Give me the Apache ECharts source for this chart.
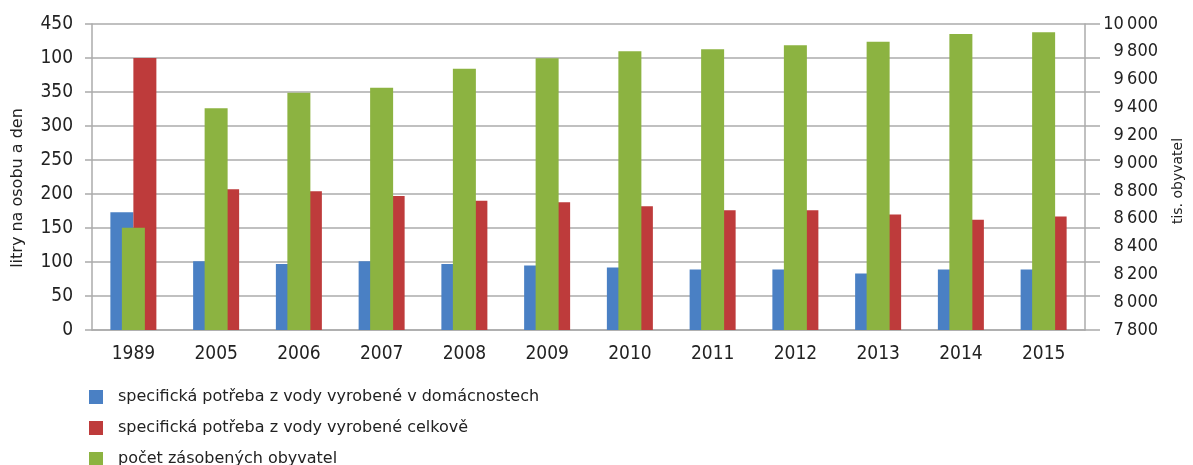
<!DOCTYPE html>
<html>
<head>
<meta charset="utf-8">
<script src="https://cdn.jsdelivr.net/npm/echarts@6/dist/echarts.min.js"></script>
<style>html,body{margin:0;padding:0;background:#fff}#c{width:1193px;height:465px}</style>
</head>
<body>
<div id="c"></div>
<script>
const categories = ['1989','2005','2006','2007','2008','2009','2010','2011','2012','2013','2014','2015'];
const domacnosti = [173, 101, 97, 101, 97, 95, 92, 89, 89, 83, 89, 89];
const celkove = [400, 207, 204, 197, 190, 188, 182, 176, 176, 170, 162, 167];
const obyvatel = [8535, 9394, 9506, 9542, 9679, 9753, 9804, 9818, 9847, 9873, 9928, 9940];
const leftTickLabels = {0:'0',50:'50',100:'100',150:'150',200:'200',250:'250',300:'300',350:'350',400:'100',450:'450'};
const seriesNames = ['specifická potřeba z vody vyrobené v domácnostech','specifická potřeba z vody vyrobené celkově','počet zásobených obyvatel'];

const numFont = '"DejaVu Sans Condensed","Liberation Sans Narrow",sans-serif';
const txtFont = '"DejaVu Sans",sans-serif';
const gridCol = '#ababab';

const chart = echarts.init(document.getElementById('c'), null, {renderer:'canvas'});
chart.setOption({
  animation:false,
  grid:{left:92, right:102, top:24, bottom:135, containLabel:false},
  legend:{
    orient:'vertical', left:89, top:389, height:120, padding:0,
    itemWidth:14, itemHeight:14, itemGap:15,
    icon:'rect',
    textStyle:{fontFamily:txtFont, fontSize:16, color:'#222', padding:[0,0,0,10]},
    data:[seriesNames[0], seriesNames[1], seriesNames[2]]
  },
  xAxis:{
    type:'category', data:categories, boundaryGap:true,
    axisLine:{lineStyle:{color:gridCol, width:1.5}},
    axisTick:{show:false},
    axisLabel:{fontFamily:numFont, fontSize:19, color:'#222', margin:15}
  },
  yAxis:[
    {
      type:'value', min:0, max:450, interval:50, position:'left',
      name:'litry na osobu a den', nameLocation:'middle', nameGap:66, nameRotate:90,
      nameTextStyle:{fontFamily:txtFont, fontSize:16, color:'#222', padding:[0,22,0,0]},
      axisLine:{show:true, lineStyle:{color:gridCol, width:1.5}},
      axisTick:{show:true, length:7, lineStyle:{color:gridCol, width:1.5}},
      splitLine:{show:true, lineStyle:{color:gridCol, width:1.5}},
      axisLabel:{fontFamily:numFont, fontSize:19, color:'#222', margin:19,
        formatter:v=>leftTickLabels[v]!==undefined?leftTickLabels[v]:String(v)}
    },
    {
      type:'value', min:7800, max:10000, interval:200, position:'right',
      name:'tis. obyvatel', nameLocation:'middle', nameGap:86, nameRotate:90,
      nameTextStyle:{fontFamily:txtFont, fontSize:14, color:'#222', padding:[0,8,0,0]},
      axisLine:{show:true, lineStyle:{color:gridCol, width:1.5}},
      axisTick:{show:false},
      splitLine:{show:false},
      axisLabel:{fontFamily:numFont, fontSize:18, color:'#222', margin:73, align:'right',
        formatter:v=>{const s=String(v);return s.length>3?s.slice(0,s.length-3)+'\u2009'+s.slice(-3):s;}}
    },
    {
      type:'value', min:0, max:450, interval:50, position:'right',
      axisLine:{show:false}, axisLabel:{show:false}, splitLine:{show:false},
      axisTick:{show:true, length:15, lineStyle:{color:gridCol, width:1.5}}
    }
  ],
  series:[
    {name:seriesNames[0], type:'bar', yAxisIndex:0, data:domacnosti, barWidth:23, barGap:'-50%',
      itemStyle:{color:'#4a80c4'}, z:2},
    {name:seriesNames[2], type:'bar', yAxisIndex:1, data:obyvatel, barWidth:23, barGap:'-50%',
      itemStyle:{color:'#8cb341'}, z:4},
    {name:seriesNames[1], type:'bar', yAxisIndex:0, data:celkove, barWidth:23, barGap:'-50%',
      itemStyle:{color:'#be3b3b'}, z:3}
  ]
});
</script>
</body>
</html>
